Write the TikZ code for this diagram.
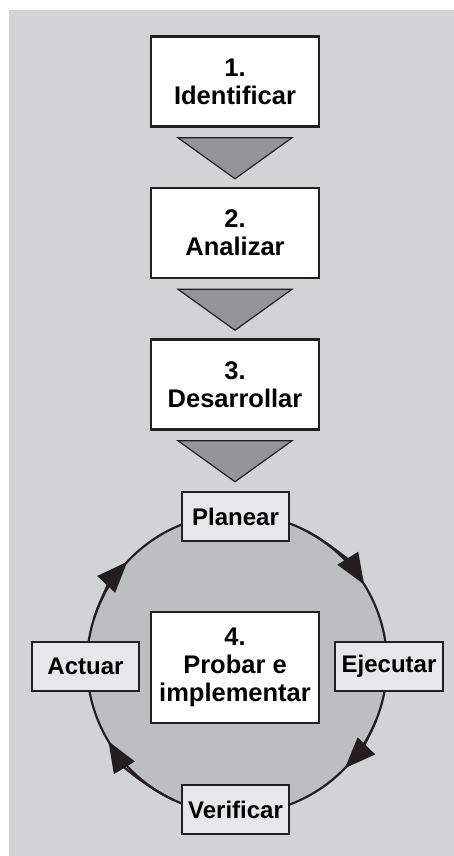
\documentclass[tikz,border=0pt]{standalone}
\usepackage{fontspec}
\setmainfont{Liberation Sans}
\usetikzlibrary{arrows.meta,calc}
\definecolor{fondo}{HTML}{D1D3D4}
\definecolor{medio}{HTML}{BCBEC0}
\definecolor{oscuro}{HTML}{939598}
\definecolor{claro}{HTML}{E6E7E8}
\definecolor{linea}{HTML}{231F20}
\begin{document}
\begin{tikzpicture}[>={Triangle[length=31pt,width=24pt]},x=1pt,y=1pt,
	paso/.style={draw=linea,line width=2.5pt,fill=white,minimum width=168pt,minimum height=90pt,inner sep=0pt,align=center,font=\bfseries\fontsize{25.5}{28}\selectfont},
	etapa/.style={draw=linea,line width=2.2pt,fill=claro,minimum width=107pt,minimum height=49pt,inner sep=0pt,font=\bfseries\fontsize{24}{26}\selectfont},
	baja/.style={draw=linea,line width=1.2pt,fill=oscuro,line join=miter},
	giro/.style={draw=linea,line width=2.2pt,->}]
		\useasboundingbox (0,0) rectangle (454,-856);
		\fill[fondo] (9,-10) rectangle (454,-856);
		\node[circle,draw=linea,line width=2.2pt,fill=medio,minimum size=300pt,inner sep=0pt,outer sep=0pt] (ciclo) at (237,-664) {};
		\draw[giro] (ciclo.62) arc[start angle=62,end angle=32,radius=150];
		\draw[giro] (ciclo.-22) arc[start angle=-22,end angle=-44,radius=150];
		\draw[giro] (ciclo.-115) arc[start angle=-115,end angle=-149,radius=150];
		\draw[giro] (ciclo.162) arc[start angle=162,end angle=137,radius=150];
		\node[paso] (b1) at (235,-81.5) {1.\\Identificar};
		\node[paso] (b2) at (235,-233) {2.\\Analizar};
		\node[paso] (b3) at (235,-384.5) {3.\\Desarrollar};
		\foreach \a in {b1,b2,b3}
			\draw[baja] ($(\a.south)+(-57,-10)$) -- ++(114,0) -- ($(\a.south)+(0,-51)$) -- cycle;
		\node[paso,minimum height=111pt] (b4) at (235,-667.5) {4.\\Probar e\\implementar};
		\node[etapa] (planear) at (235.5,-516.5) {Planear};
		\node[etapa] (actuar) at (85.5,-666.5) {Actuar};
		\node[etapa,minimum width=108pt] (ejecutar) at (389,-666.5) {Ejecutar};
		\node[etapa] (verificar) at (235.5,-809.5) {Verificar};
		\end{tikzpicture}
\end{document}
